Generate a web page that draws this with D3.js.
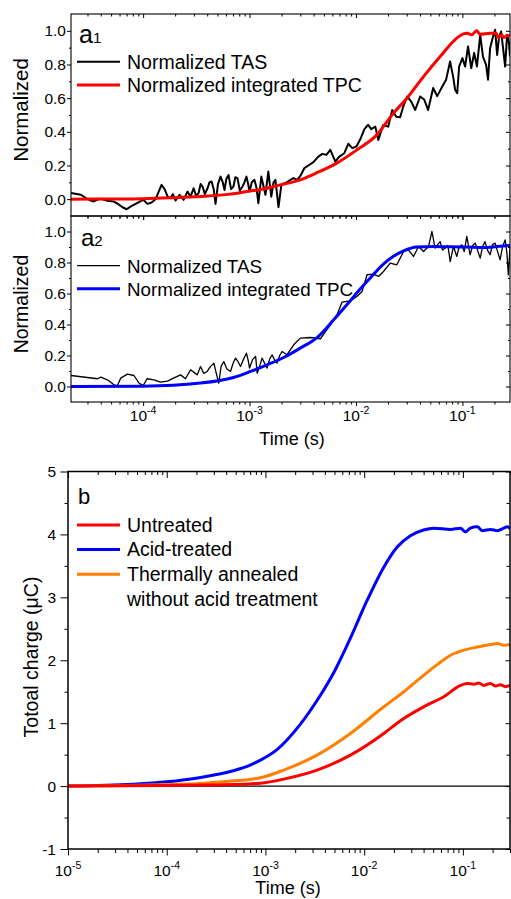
<!DOCTYPE html>
<html>
<head>
<meta charset="utf-8">
<script src="https://cdn.jsdelivr.net/npm/d3@7"></script>
<style>
  body { margin: 0; background: #fff; }
  text { fill: #000; }
</style>
</head>
<body>
<div id="chart"></div>
<script>
// ---- data: [time (s), value] ----
const a1Tas = [
  [2.1e-5, 0.037], [2.6e-5, 0.026], [3.0e-5, 0.0], [3.4e-5, -0.014], [3.7e-5, -0.004], [4.0e-5, 0.002],
  [4.6e-5, -0.01], [5.3e-5, -0.014], [5.8e-5, -0.028], [6.4e-5, -0.048], [7.0e-5, -0.06], [7.6e-5, -0.044],
  [8.5e-5, -0.028], [9.3e-5, -0.014], [1.0e-4, -0.004], [1.1e-4, -0.028], [1.2e-4, -0.02], [1.31e-4, 0.0],
  [1.4e-4, 0.045], [1.49e-4, 0.085], [1.59e-4, 0.06], [1.7e-4, 0.015], [1.81e-4, 0.006], [1.9e-4, 0.03],
  [2.02e-4, -0.008], [2.2e-4, 0.026], [2.4e-4, -0.004], [2.61e-4, 0.045], [2.79e-4, 0.015], [2.98e-4, 0.065],
  [3.15e-4, 0.02], [3.32e-4, 0.036], [3.47e-4, 0.09], [3.62e-4, 0.075], [3.8e-4, 0.03], [4.03e-4, 0.065],
  [4.2e-4, 0.1], [4.39e-4, 0.105], [4.6e-4, 0.06], [4.79e-4, -0.028], [5.05e-4, 0.09], [5.34e-4, 0.134],
  [5.6e-4, 0.1], [5.82e-4, 0.055], [6.05e-4, 0.12], [6.34e-4, 0.144], [6.7e-4, 0.06], [7.06e-4, 0.075],
  [7.35e-4, 0.13], [7.7e-4, 0.125], [8.1e-4, 0.05], [8.58e-4, 0.075], [8.95e-4, 0.1], [9.35e-4, 0.134],
  [9.7e-4, 0.09], [1.0e-3, 0.045], [1.05e-3, 0.1],
  [1.11e-3, 0.115], [1.16e-3, 0.07], [1.21e-3, -0.024], [1.29e-3, 0.134], [1.35e-3, 0.08], [1.41e-3, 0.026],
  [1.5e-3, 0.164], [1.6e-3, 0.015], [1.68e-3, 0.1],
  [1.75e-3, 0.115], [1.87e-3, -0.048], [1.99e-3, 0.085], [2.22e-3, 0.099], [2.42e-3, 0.115], [2.58e-3, 0.125],
  [2.81e-3, 0.115], [3.0e-3, 0.138], [3.27e-3, 0.184], [3.57e-3, 0.2], [3.98e-3, 0.22], [4.43e-3, 0.253],
  [4.83e-3, 0.269], [5.27e-3, 0.263], [5.74e-3, 0.293], [6.4e-3, 0.223], [6.97e-3, 0.253], [7.77e-3, 0.273],
  [8.46e-3, 0.329], [9.23e-3, 0.303], [1.01e-2, 0.313], [1.1e-2, 0.357], [1.2e-2, 0.416], [1.3e-2, 0.442],
  [1.39e-2, 0.416], [1.52e-2, 0.431], [1.62e-2, 0.352], [1.8e-2, 0.44], [2.01e-2, 0.431], [2.19e-2, 0.53],
  [2.39e-2, 0.49], [2.6e-2, 0.487], [2.78e-2, 0.55], [3.03e-2, 0.61], [3.3e-2, 0.58], [3.6e-2, 0.53],
  [4.01e-2, 0.61], [4.37e-2, 0.592], [4.76e-2, 0.53], [5.31e-2, 0.66], [5.79e-2, 0.612], [6.45e-2, 0.668],
  [7.03e-2, 0.71], [7.66e-2, 0.818], [8.18e-2, 0.728], [8.54e-2, 0.65], [8.94e-2, 0.63], [9.31e-2, 0.788],
  [0.1, 0.838], [0.106, 0.788], [0.113, 0.907], [0.121, 0.778], [0.129, 0.868], [0.137, 0.788],
  [0.147, 0.976], [0.156, 0.847], [0.167, 0.798], [0.174, 0.71], [0.182, 0.897], [0.194, 0.966],
  [0.203, 1.006], [0.212, 0.857], [0.221, 0.966], [0.231, 0.996], [0.241, 0.897], [0.252, 0.788],
  [0.263, 0.976], [0.274, 0.927], [0.28, 0.847]
];
const a1Tpc = [
  [2.1e-5, 0], [5e-5, 0.001], [1e-4, 0.003], [1.8e-4, 0.008], [3.5e-4, 0.016], [6.6e-4, 0.03],
  [1.0e-3, 0.048], [1.27e-3, 0.058], [1.95e-3, 0.085], [3.0e-3, 0.115], [4.4e-3, 0.16], [6.6e-3, 0.214],
  [1.02e-2, 0.293], [1.57e-2, 0.382], [2.25e-2, 0.511], [3.01e-2, 0.6], [4.31e-2, 0.728], [6.18e-2, 0.847],
  [8.86e-2, 0.957], [0.102, 0.982], [0.111, 0.986], [0.122, 0.976], [0.136, 1.0], [0.147, 0.98],
  [0.182, 0.986], [0.207, 0.986], [0.218, 0.962], [0.234, 0.976], [0.243, 0.96], [0.263, 0.972], [0.28, 0.97]
];
const a2Tas = [
  [2.1e-5, 0.071], [3.72e-5, 0.05], [4.0e-5, 0.06], [4.62e-5, 0.043], [5.32e-5, 0.011], [5.73e-5, 0.006],
  [6.16e-5, 0.054], [7.11e-5, 0.08], [8.2e-5, 0.071], [9.14e-5, 0.022], [1.0e-4, 0.006], [1.09e-4, 0.05],
  [1.26e-4, 0.043], [1.46e-4, 0.028], [1.69e-4, 0.035], [1.95e-4, 0.056], [2.25e-4, 0.075], [2.5e-4, 0.05],
  [2.79e-4, 0.108], [3.23e-4, 0.075], [3.46e-4, 0.129], [3.7e-4, 0.085], [4.0e-4, 0.097], [4.3e-4, 0.13],
  [4.62e-4, 0.151], [4.85e-4, 0.09], [5.14e-4, 0.022], [5.4e-4, 0.13],
  [5.73e-4, 0.161], [6.1e-4, 0.115], [6.62e-4, 0.097], [7.0e-4, 0.15], [7.38e-4, 0.183], [7.8e-4, 0.16],
  [8.22e-4, 0.129], [8.7e-4, 0.17], [9.35e-4, 0.215], [9.7e-4, 0.17], [1.0e-3, 0.119],
  [1.07e-3, 0.175], [1.14e-3, 0.194], [1.18e-3, 0.086], [1.27e-3, 0.151], [1.31e-3, 0.183], [1.46e-3, 0.119],
  [1.55e-3, 0.18], [1.63e-3, 0.205], [1.72e-3, 0.17], [1.81e-3, 0.151], [1.92e-3, 0.2], [2.02e-3, 0.226],
  [2.25e-3, 0.205], [2.6e-3, 0.269], [3.0e-3, 0.312],
  [3.72e-3, 0.316], [4.63e-3, 0.308], [5.74e-3, 0.398], [6.64e-3, 0.463], [7.4e-3, 0.545], [8.84e-3, 0.553],
  [1.02e-2, 0.581], [1.14e-2, 0.613], [1.27e-2, 0.721], [1.46e-2, 0.725], [1.63e-2, 0.71], [1.81e-2, 0.742],
  [2.1e-2, 0.796], [2.42e-2, 0.785], [2.8e-2, 0.871], [3.11e-2, 0.882], [3.47e-2, 0.839], [3.87e-2, 0.903],
  [4.31e-2, 0.871], [4.8e-2, 0.903], [5.17e-2, 1.0], [5.54e-2, 0.893], [5.85e-2, 0.915], [6.18e-2, 0.935],
  [6.5e-2, 0.88], [6.89e-2, 0.893], [7.3e-2, 0.91], [7.68e-2, 0.806], [8.24e-2, 0.903], [8.86e-2, 0.839],
  [9.3e-2, 0.9], [9.87e-2, 0.914], [0.104, 0.87], [0.110, 0.968], [0.118, 0.85], [0.125, 0.91],
  [0.132, 0.925], [0.14, 0.87], [0.147, 0.828], [0.155, 0.905], [0.163, 0.935], [0.172, 0.88],
  [0.182, 0.85], [0.192, 0.915], [0.203, 0.925], [0.214, 0.87], [0.226, 0.817], [0.238, 0.9],
  [0.252, 0.946], [0.262, 0.86], [0.270, 0.721], [0.28, 0.893]
];
const a2Tpc = [
  [2.1e-5, 0], [1e-4, 0.002], [3.46e-4, 0.022], [7.06e-4, 0.058], [1.02e-3, 0.097], [1.46e-3, 0.14],
  [2.09e-3, 0.187], [3.0e-3, 0.248], [4.31e-3, 0.316], [6.17e-3, 0.43], [8.84e-3, 0.553], [1.1e-2, 0.63],
  [1.36e-2, 0.70], [1.81e-2, 0.79], [2.25e-2, 0.84], [2.8e-2, 0.875], [3.73e-2, 0.9], [5.34e-2, 0.903],
  [7.68e-2, 0.901], [0.11, 0.9], [0.157, 0.897], [0.21, 0.903], [0.28, 0.91]
];
const bUntreated = [
  [1e-5, 0], [1e-4, 0.01], [2.2e-4, 0.016], [7.0e-4, 0.035], [8.9e-4, 0.045], [1.53e-3, 0.111],
  [3.33e-3, 0.254], [7.25e-3, 0.492], [1.58e-2, 0.836], [2.33e-2, 1.04], [4.0e-2, 1.26], [6.4e-2, 1.42],
  [9.45e-2, 1.6], [0.11, 1.63], [0.129, 1.62], [0.145, 1.64], [0.163, 1.6], [0.19, 1.63], [0.214, 1.59],
  [0.241, 1.61], [0.27, 1.58], [0.3, 1.6]
];
const bAcid = [
  [1e-5, 0], [4.6e-5, 0.03], [1e-4, 0.068], [2.2e-4, 0.138], [4.7e-4, 0.243], [7.0e-4, 0.333],
  [8.9e-4, 0.413], [1.31e-3, 0.58], [2.25e-3, 0.98], [3.33e-3, 1.36], [5.1e-3, 1.85], [7.25e-3, 2.35],
  [1.07e-2, 2.95], [1.58e-2, 3.48], [2.16e-2, 3.8], [2.94e-2, 3.98], [4.0e-2, 4.07], [5.07e-2, 4.1],
  [7.5e-2, 4.08], [9.45e-2, 4.1], [0.106, 4.04], [0.119, 4.1], [0.14, 4.12], [0.157, 4.06], [0.19, 4.08],
  [0.223, 4.06], [0.26, 4.1], [0.281, 4.12], [0.3, 4.09]
];
const bAnnealed = [
  [1e-5, 0], [5e-5, 0.012], [1e-4, 0.025], [2.2e-4, 0.042], [4.7e-4, 0.084], [7.0e-4, 0.106],
  [8.9e-4, 0.132], [1.53e-3, 0.254], [3.33e-3, 0.492], [7.25e-3, 0.836], [1.58e-2, 1.26], [2.52e-2, 1.5],
  [3.72e-2, 1.72], [5.49e-2, 1.93], [7.5e-2, 2.08], [0.102, 2.16], [0.14, 2.21], [0.19, 2.25],
  [0.223, 2.265], [0.26, 2.24], [0.3, 2.25]
];

// ticks
const aXTicks = [1e-4, 1e-3, 1e-2, 1e-1];
const bXTicks = [1e-5, 1e-4, 1e-3, 1e-2, 1e-1];
const aYTicks = [0, 0.2, 0.4, 0.6, 0.8, 1.0];
const aYMinor = [0.1, 0.3, 0.5, 0.7, 0.9];
const bYTicks = [-1, 0, 1, 2, 3, 4, 5];
const bYMinor = [-0.5, 0.5, 1.5, 2.5, 3.5, 4.5];

const FONT = '"Liberation Sans", Arial, Helvetica, sans-serif';
const svg = d3.select("#chart").append("svg")
  .attr("width", 511).attr("height", 899)
  .style("font-family", FONT);

// draws ticks with a d3 axis generator, no domain line, no labels
function tickRow(g, gen, values, size, transform) {
  g.append("g")
    .attr("transform", transform)
    .call(gen.tickValues(values).tickSize(size).tickFormat(""))
    .call(s => s.select(".domain").remove())
    .selectAll("line").attr("stroke", "#000").attr("stroke-width", 1);
}

function panel(p) {
  const x = d3.scaleLog().domain(p.xDomain).range([p.left, p.right]);
  const y = d3.scaleLinear().domain(p.yDomain).range([p.bottom, p.top]);
  const g = svg.append("g");

  svg.append("clipPath").attr("id", "clip-" + p.name)
    .append("rect")
    .attr("x", p.left).attr("y", p.top)
    .attr("width", p.right - p.left).attr("height", p.bottom - p.top);

  const xMinor = x.ticks().filter(d => !p.xTicks.some(m => Math.abs(m - d) / m < 1e-6));

  // ticks: bottom & left point out, top & right point in
  tickRow(g, d3.axisBottom(x), p.xTicks, p.tx[0], `translate(0,${p.bottom})`);
  tickRow(g, d3.axisBottom(x), xMinor, p.tx[1], `translate(0,${p.bottom})`);
  tickRow(g, d3.axisTop(x), p.xTicks, -p.tt[0], `translate(0,${p.top})`);
  tickRow(g, d3.axisTop(x), xMinor, -p.tt[1], `translate(0,${p.top})`);
  tickRow(g, d3.axisLeft(y), p.yTicks, p.ty[0], `translate(${p.left},0)`);
  tickRow(g, d3.axisLeft(y), p.yMinor, p.ty[1], `translate(${p.left},0)`);
  tickRow(g, d3.axisRight(y), p.yTicks, -p.tr[0], `translate(${p.right},0)`);
  tickRow(g, d3.axisRight(y), p.yMinor, -p.tr[1], `translate(${p.right},0)`);

  if (p.zeroLine) {
    g.append("line")
      .attr("x1", p.left).attr("x2", p.right)
      .attr("y1", y(0)).attr("y2", y(0))
      .attr("stroke", "#000").attr("stroke-width", 1.4);
  }

  p.series.forEach(s => {
    const line = d3.line()
      .x(d => x(d[0]))
      .y(d => y(d[1]))
      .curve(s.smooth ? d3.curveMonotoneX : d3.curveLinear);
    g.append("path")
      .datum(s.data)
      .attr("clip-path", `url(#clip-${p.name})`)
      .attr("fill", "none")
      .attr("stroke", s.color)
      .attr("stroke-width", s.width)
      .attr("stroke-linejoin", "round")
      .attr("d", line);
  });

  // frame
  g.append("rect")
    .attr("x", p.left).attr("y", p.top)
    .attr("width", p.right - p.left).attr("height", p.bottom - p.top)
    .attr("fill", "none").attr("stroke", "#000").attr("stroke-width", p.frameWidth);

  // y tick labels
  g.append("g").selectAll("text")
    .data(p.yTicks)
    .join("text")
    .attr("x", p.left - p.yLabelGap)
    .attr("y", d => y(d))
    .attr("dy", "0.36em")
    .attr("text-anchor", "end")
    .attr("font-size", p.tickFont)
    .text(p.yFormat);

  // x tick labels as 10^n
  if (p.xLabels) {
    const lab = g.append("g").selectAll("text")
      .data(p.xTicks)
      .join("text")
      .attr("x", d => x(d))
      .attr("y", p.xLabelY)
      .attr("text-anchor", "middle")
      .attr("font-size", p.tickFont);
    lab.append("tspan").text("10");
    lab.append("tspan")
      .attr("dy", -7)
      .attr("font-size", p.tickFont * 0.68)
      .text(d => Math.round(Math.log10(d)));
  }
  return { x, y, g };
}

function legend(g, items, x0, y0, step, size) {
  items.forEach((it, i) => {
    const yb = y0 + i * step;
    if (it.color) {
      g.append("line")
        .attr("x1", x0).attr("x2", x0 + 43)
        .attr("y1", yb - 6.8).attr("y2", yb - 6.8)
        .attr("stroke", it.color).attr("stroke-width", it.width);
    }
    g.append("text")
      .attr("x", x0 + 50).attr("y", yb)
      .attr("font-size", size)
      .text(it.label);
  });
}

function yTitle(g, text, xb, yc, size) {
  g.append("text")
    .attr("transform", `translate(${xb},${yc}) rotate(-90)`)
    .attr("text-anchor", "middle")
    .attr("font-size", size)
    .text(text);
}

function panelTag(g, letter, sub, x0, yb, big, small) {
  const t = g.append("text").attr("x", x0).attr("y", yb);
  t.append("tspan").attr("font-size", big).text(letter);
  if (sub) t.append("tspan").attr("font-size", small).text(sub);
}

const fmt1 = d => d3.format(".1f")(d);

// ---- panel a1 ----
const pA1 = panel({
  name: "a1", left: 71, right: 510, top: 14, bottom: 216,
  xDomain: [2.1e-5, 0.28], yDomain: [-0.1, 1.1],
  xTicks: aXTicks, yTicks: aYTicks, yMinor: aYMinor,
  tx: [4, 2.5], tt: [4, 2.5], ty: [4, 2], tr: [4, 2],
  frameWidth: 1.1, tickFont: 15.5, yLabelGap: 5, yFormat: fmt1,
  xLabels: false,
  series: [
    { data: a1Tas, color: "#000", width: 2 },
    { data: a1Tpc, color: "#ff0000", width: 3, smooth: true }
  ]
});
yTitle(pA1.g, "Normalized", 28, 110, 20.5);
panelTag(pA1.g, "a", "1", 79, 43, 25, 15);
legend(pA1.g, [
  { label: "Normalized TAS", color: "#000", width: 2 },
  { label: "Normalized integrated TPC", color: "#ff0000", width: 3 }
], 77, 68.5, 23.3, 19.5);

// ---- panel a2 ----
const pA2 = panel({
  name: "a2", left: 71, right: 510, top: 216, bottom: 402,
  xDomain: [2.1e-5, 0.28], yDomain: [-0.1, 1.1],
  xTicks: aXTicks, yTicks: aYTicks, yMinor: aYMinor,
  tx: [4, 2.5], tt: [4, 2.5], ty: [4, 2], tr: [4, 2],
  frameWidth: 1.1, tickFont: 15.5, yLabelGap: 5, yFormat: fmt1,
  xLabels: true, xLabelY: 421,
  series: [
    { data: a2Tas, color: "#000", width: 1.3 },
    { data: a2Tpc, color: "#0000ff", width: 3, smooth: true }
  ]
});
yTitle(pA2.g, "Normalized", 28, 304, 19.5);
panelTag(pA2.g, "a", "2", 81, 246, 24, 15);
legend(pA2.g, [
  { label: "Normalized TAS", color: "#000", width: 1.3 },
  { label: "Normalized integrated TPC", color: "#0000ff", width: 3 }
], 77, 272.5, 23, 18.8);
pA2.g.append("text")
  .attr("x", 292).attr("y", 445)
  .attr("text-anchor", "middle").attr("font-size", 18)
  .text("Time (s)");

// ---- panel b ----
const pB = panel({
  name: "b", left: 68, right: 510, top: 471.5, bottom: 849,
  xDomain: [1e-5, 0.3], yDomain: [-1, 5],
  xTicks: bXTicks, yTicks: bYTicks, yMinor: bYMinor,
  tx: [6.5, 4], tt: [6.5, 3.5], ty: [7.5, 3.5], tr: [4.5, 3.5],
  frameWidth: 1.5, tickFont: 15.5, yLabelGap: 12, yFormat: d => d,
  xLabels: true, xLabelY: 876, zeroLine: true,
  series: [
    { data: bAcid, color: "#0000ff", width: 3, smooth: true },
    { data: bAnnealed, color: "#ff8000", width: 3, smooth: true },
    { data: bUntreated, color: "#ff0000", width: 3, smooth: true }
  ]
});
yTitle(pB.g, "Totoal charge (\u03bcC)", 38, 657, 19.5);
panelTag(pB.g, "b", null, 78, 504, 22, 0);
legend(pB.g, [
  { label: "Untreated", color: "#ff0000", width: 3 },
  { label: "Acid-treated", color: "#0000ff", width: 3 },
  { label: "Thermally annealed", color: "#ff8000", width: 3 },
  { label: "without acid treatment" }
], 77, 531.7, 24.7, 19.5);
pB.g.append("text")
  .attr("x", 288).attr("y", 894)
  .attr("text-anchor", "middle").attr("font-size", 18)
  .text("Time (s)");
</script>
</body>
</html>
